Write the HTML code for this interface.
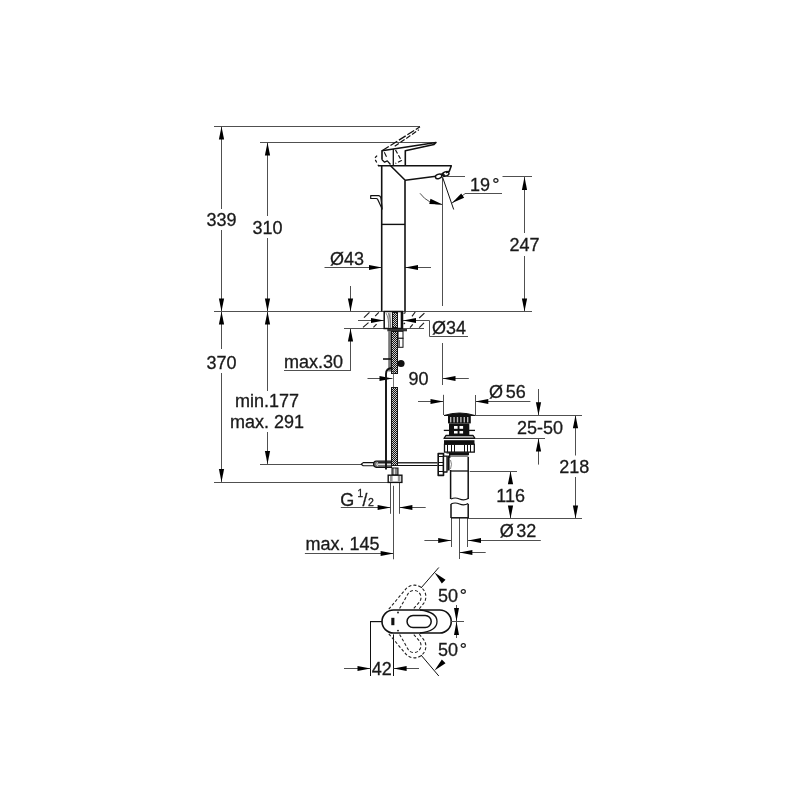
<!DOCTYPE html>
<html><head><meta charset="utf-8"><style>
html,body{margin:0;padding:0;background:#fff;}
svg{display:block;transform:translateZ(0);will-change:transform;}
text{font-family:"Liberation Sans", sans-serif;}
</style></head><body>
<svg width="800" height="800" viewBox="0 0 800 800">
<defs><pattern id="hose" width="4" height="4" patternUnits="userSpaceOnUse"><rect width="4" height="4" fill="#111"/><rect x="0" y="0" width="2" height="2" fill="#ddd"/><rect x="2" y="2" width="2" height="2" fill="#ddd"/></pattern></defs>
<rect width="800" height="800" fill="#fff"/>
<line x1="214" y1="126.5" x2="420" y2="126.5" stroke="#505050" stroke-width="1.0" />
<line x1="260" y1="142.5" x2="436" y2="142.5" stroke="#505050" stroke-width="1.0" />
<line x1="221.5" y1="126.5" x2="221.5" y2="209" stroke="#505050" stroke-width="1.0" />
<line x1="221.5" y1="230" x2="221.5" y2="311.5" stroke="#505050" stroke-width="1.0" />
<polygon points="221.50,126.50 224.10,139.50 218.90,139.50" fill="#000"/>
<polygon points="221.50,311.50 218.90,298.50 224.10,298.50" fill="#000"/>
<text x="221.5" y="225.5" font-size="18" text-anchor="middle" fill="#1a1a1a" stroke="#1a1a1a" stroke-width="0.3" >339</text>
<line x1="221.5" y1="311.5" x2="221.5" y2="349" stroke="#505050" stroke-width="1.0" />
<line x1="221.5" y1="373" x2="221.5" y2="482" stroke="#505050" stroke-width="1.0" />
<polygon points="221.50,311.50 224.10,324.50 218.90,324.50" fill="#000"/>
<polygon points="221.50,482.00 218.90,469.00 224.10,469.00" fill="#000"/>
<text x="221.5" y="369" font-size="18" text-anchor="middle" fill="#1a1a1a" stroke="#1a1a1a" stroke-width="0.3" >370</text>
<line x1="267.5" y1="142.5" x2="267.5" y2="216" stroke="#505050" stroke-width="1.0" />
<line x1="267.5" y1="238" x2="267.5" y2="311.5" stroke="#505050" stroke-width="1.0" />
<polygon points="267.50,142.50 270.10,155.50 264.90,155.50" fill="#000"/>
<polygon points="267.50,311.50 264.90,298.50 270.10,298.50" fill="#000"/>
<text x="267.5" y="234" font-size="18" text-anchor="middle" fill="#1a1a1a" stroke="#1a1a1a" stroke-width="0.3" >310</text>
<line x1="267.5" y1="311.5" x2="267.5" y2="391" stroke="#505050" stroke-width="1.0" />
<line x1="267.5" y1="432" x2="267.5" y2="464" stroke="#505050" stroke-width="1.0" />
<polygon points="267.50,311.50 270.10,324.50 264.90,324.50" fill="#000"/>
<polygon points="267.50,464.00 264.90,451.00 270.10,451.00" fill="#000"/>
<text x="267" y="407" font-size="18" text-anchor="middle" fill="#1a1a1a" stroke="#1a1a1a" stroke-width="0.3" >min.177</text>
<text x="267" y="428" font-size="18" text-anchor="middle" fill="#1a1a1a" stroke="#1a1a1a" stroke-width="0.3" >max. 291</text>
<line x1="214" y1="311.5" x2="532" y2="311.5" stroke="#505050" stroke-width="1.0" />
<line x1="260" y1="464.5" x2="362" y2="464.5" stroke="#505050" stroke-width="1.0" />
<line x1="214" y1="482.5" x2="388" y2="482.5" stroke="#505050" stroke-width="1.0" />
<line x1="350.5" y1="286" x2="350.5" y2="311.5" stroke="#505050" stroke-width="1.0" />
<polygon points="350.50,311.50 347.90,298.50 353.10,298.50" fill="#000"/>
<line x1="350.5" y1="328.5" x2="350.5" y2="370.5" stroke="#505050" stroke-width="1.0" />
<polygon points="350.50,328.50 353.10,341.50 347.90,341.50" fill="#000"/>
<line x1="284" y1="370.5" x2="351" y2="370.5" stroke="#505050" stroke-width="1.0" />
<text x="284" y="368" font-size="18" text-anchor="start" fill="#1a1a1a" stroke="#1a1a1a" stroke-width="0.3" >max.30</text>
<line x1="344" y1="328.5" x2="424" y2="328.5" stroke="#505050" stroke-width="1.0" />
<line x1="358" y1="320.5" x2="384" y2="320.5" stroke="#505050" stroke-width="1.0" />
<polygon points="384.00,320.50 371.00,323.10 371.00,317.90" fill="#000"/>
<line x1="403" y1="320.5" x2="429.5" y2="320.5" stroke="#505050" stroke-width="1.0" />
<polygon points="403.00,320.50 416.00,317.90 416.00,323.10" fill="#000"/>
<line x1="429.5" y1="320.5" x2="429.5" y2="336.5" stroke="#505050" stroke-width="1.0" />
<line x1="429.5" y1="336.5" x2="468" y2="336.5" stroke="#505050" stroke-width="1.0" />
<text x="432" y="333.8" font-size="18" text-anchor="start" fill="#1a1a1a" stroke="#1a1a1a" stroke-width="0.3" >Ø34</text>
<line x1="324.5" y1="267.5" x2="382" y2="267.5" stroke="#505050" stroke-width="1.0" />
<polygon points="382.00,267.50 369.00,270.10 369.00,264.90" fill="#000"/>
<line x1="405" y1="267.5" x2="431" y2="267.5" stroke="#505050" stroke-width="1.0" />
<polygon points="405.00,267.50 418.00,264.90 418.00,270.10" fill="#000"/>
<text x="330" y="265" font-size="18" text-anchor="start" fill="#1a1a1a" stroke="#1a1a1a" stroke-width="0.3" >Ø43</text>
<line x1="381.7" y1="165.6" x2="381.7" y2="311.5" stroke="#111" stroke-width="1.6" />
<line x1="405" y1="180.6" x2="405" y2="311.5" stroke="#111" stroke-width="1.6" />
<line x1="382" y1="224.4" x2="405" y2="224.4" stroke="#111" stroke-width="1.4" />
<polyline points="378,165.8 451.3,165.8 449.3,171.3 446,172.8" stroke="#111" stroke-width="1.6" fill="none" stroke-linejoin="round" />
<polyline points="390.6,165.8 405.2,180.3 436,176.2" stroke="#111" stroke-width="1.6" fill="none" stroke-linejoin="round" />
<path d="M 440.5 173.8 L 443.5 177.2 L 446 176 L 443 172.5 Z" stroke="#111" stroke-width="0" fill="#333" stroke-linejoin="round" />
<ellipse cx="438.6" cy="176.4" rx="3.3" ry="2.1" transform="rotate(-22 438.6 176.4)" fill="none" stroke="#111" stroke-width="1.4"/>
<ellipse cx="445.8" cy="173.9" rx="3.3" ry="2.1" transform="rotate(-22 445.8 173.9)" fill="none" stroke="#111" stroke-width="1.4"/>
<polyline points="382,159.8 382,150.8 436,142.5 434,144.5 405.3,150.8 405.3,165.6" stroke="#111" stroke-width="1.6" fill="none" stroke-linejoin="round" />
<line x1="393.3" y1="149" x2="393.3" y2="165.6" stroke="#111" stroke-width="1.3" />
<polyline points="382,159.8 384.6,162.2 387.3,160.9 390.5,164.5" stroke="#111" stroke-width="1.3" fill="none" stroke-linejoin="round" />
<polyline points="382,150.8 420,126.8" stroke="#111" stroke-width="1.3" fill="none" stroke-linejoin="round" stroke-dasharray="8,2"/>
<polyline points="394.7,146.3 418.8,129.8" stroke="#111" stroke-width="1.2" fill="none" stroke-linejoin="round" stroke-dasharray="5,2"/>
<polyline points="377.1,155.6 374.5,158.3 378.3,165.4" stroke="#111" stroke-width="1.2" fill="none" stroke-linejoin="round" stroke-dasharray="3,2.5"/>
<polyline points="395.5,150 401.5,160.5 395.5,163.5" stroke="#111" stroke-width="1.2" fill="none" stroke-linejoin="round" stroke-dasharray="4,2"/>
<polyline points="384.3,152.3 386.5,156.8" stroke="#111" stroke-width="1.1" fill="none" stroke-linejoin="round" />
<path d="M 370.7 195.7 L 378.8 195.7 Q 380.2 196 380.8 197.5 L 382.2 209 L 377.6 199.2 Q 377.2 198.5 376.3 198.5 L 370.7 198.5 Z" stroke="#111" stroke-width="1.2" fill="#fff" stroke-linejoin="round" />
<line x1="442.5" y1="178" x2="442.5" y2="306" stroke="#505050" stroke-width="1.0" />
<line x1="442.5" y1="177" x2="453.7" y2="209.5" stroke="#111" stroke-width="1.0" />
<line x1="445.5" y1="176.5" x2="465" y2="176.5" stroke="#505050" stroke-width="1.0" />
<line x1="502.5" y1="176.5" x2="532" y2="176.5" stroke="#505050" stroke-width="1.0" />
<line x1="465" y1="193.5" x2="502" y2="193.5" stroke="#505050" stroke-width="1.0" />
<polyline points="465,193.7 452,203" stroke="#505050" stroke-width="1.0" fill="none" stroke-linejoin="round" />
<polygon points="452.00,203.00 461.21,193.46 464.17,197.74" fill="#000"/>
<path d="M 420 193.3 A 27.5 27.5 0 0 0 442.5 204.5" stroke="#505050" stroke-width="1.0" fill="none" stroke-linejoin="round" />
<polygon points="442.50,204.50 429.26,203.92 430.50,198.87" fill="#000"/>
<text x="470" y="190.7" font-size="18" text-anchor="start" fill="#1a1a1a" stroke="#1a1a1a" stroke-width="0.3" >19</text>
<text x="492.3" y="190.7" font-size="18" text-anchor="start" fill="#1a1a1a" stroke="#1a1a1a" stroke-width="0.3" >°</text>
<line x1="524.5" y1="177" x2="524.5" y2="233" stroke="#505050" stroke-width="1.0" />
<line x1="524.5" y1="256" x2="524.5" y2="311.5" stroke="#505050" stroke-width="1.0" />
<polygon points="524.50,177.00 527.10,190.00 521.90,190.00" fill="#000"/>
<polygon points="524.50,311.50 521.90,298.50 527.10,298.50" fill="#000"/>
<text x="524.6" y="251" font-size="18" text-anchor="middle" fill="#1a1a1a" stroke="#1a1a1a" stroke-width="0.3" >247</text>
<line x1="442.5" y1="343" x2="442.5" y2="385" stroke="#505050" stroke-width="1.0" />
<line x1="443.5" y1="394.8" x2="443.5" y2="415" stroke="#505050" stroke-width="1.0" />
<text x="408.5" y="385" font-size="18" text-anchor="start" fill="#1a1a1a" stroke="#1a1a1a" stroke-width="0.3" >90</text>
<line x1="367.5" y1="378.5" x2="392.5" y2="378.5" stroke="#505050" stroke-width="1.0" />
<polygon points="392.50,378.50 379.50,381.10 379.50,375.90" fill="#000"/>
<line x1="442.5" y1="378.5" x2="468.8" y2="378.5" stroke="#505050" stroke-width="1.0" />
<polygon points="442.50,378.50 455.50,375.90 455.50,381.10" fill="#000"/>
<line x1="418" y1="401.5" x2="443.5" y2="401.5" stroke="#505050" stroke-width="1.0" />
<polygon points="443.50,401.50 430.50,404.10 430.50,398.90" fill="#000"/>
<line x1="475.3" y1="401.5" x2="530.4" y2="401.5" stroke="#505050" stroke-width="1.0" />
<polygon points="475.30,401.50 488.30,398.90 488.30,404.10" fill="#000"/>
<line x1="475.5" y1="395" x2="475.5" y2="415" stroke="#505050" stroke-width="1.0" />
<text x="489" y="398" font-size="18" text-anchor="start" fill="#1a1a1a" stroke="#1a1a1a" stroke-width="0.3" >Ø</text>
<text x="505.7" y="398" font-size="18" text-anchor="start" fill="#1a1a1a" stroke="#1a1a1a" stroke-width="0.3" >56</text>
<line x1="475" y1="415.5" x2="582" y2="415.5" stroke="#505050" stroke-width="1.0" />
<line x1="538.5" y1="389" x2="538.5" y2="415.2" stroke="#505050" stroke-width="1.0" />
<polygon points="538.50,415.20 535.90,402.20 541.10,402.20" fill="#000"/>
<line x1="538.5" y1="438.6" x2="538.5" y2="464.6" stroke="#505050" stroke-width="1.0" />
<polygon points="538.50,438.60 541.10,451.60 535.90,451.60" fill="#000"/>
<line x1="475.3" y1="438.5" x2="545" y2="438.5" stroke="#505050" stroke-width="1.0" />
<text x="517" y="434" font-size="18" text-anchor="start" fill="#1a1a1a" stroke="#1a1a1a" stroke-width="0.3" >25-50</text>
<line x1="575.5" y1="415.2" x2="575.5" y2="455.5" stroke="#505050" stroke-width="1.0" />
<line x1="575.5" y1="477" x2="575.5" y2="518.6" stroke="#505050" stroke-width="1.0" />
<polygon points="575.50,415.20 578.10,428.20 572.90,428.20" fill="#000"/>
<polygon points="575.50,518.60 572.90,505.60 578.10,505.60" fill="#000"/>
<text x="574.2" y="473" font-size="18" text-anchor="middle" fill="#1a1a1a" stroke="#1a1a1a" stroke-width="0.3" >218</text>
<line x1="510.5" y1="471.3" x2="510.5" y2="484" stroke="#505050" stroke-width="1.0" />
<line x1="510.5" y1="506" x2="510.5" y2="518.6" stroke="#505050" stroke-width="1.0" />
<polygon points="510.50,471.30 513.10,484.30 507.90,484.30" fill="#000"/>
<polygon points="510.50,518.60 507.90,505.60 513.10,505.60" fill="#000"/>
<text x="510.7" y="501.7" font-size="18" text-anchor="middle" fill="#1a1a1a" stroke="#1a1a1a" stroke-width="0.3" >116</text>
<line x1="469.7" y1="471.5" x2="517" y2="471.5" stroke="#505050" stroke-width="1.0" />
<line x1="468" y1="518.5" x2="582" y2="518.5" stroke="#505050" stroke-width="1.0" />
<line x1="451.5" y1="518" x2="451.5" y2="547" stroke="#505050" stroke-width="1.0" />
<line x1="467.5" y1="518" x2="467.5" y2="547" stroke="#505050" stroke-width="1.0" />
<line x1="459.5" y1="518" x2="459.5" y2="559" stroke="#505050" stroke-width="1.0" />
<line x1="424.4" y1="540.5" x2="451.2" y2="540.5" stroke="#505050" stroke-width="1.0" />
<polygon points="451.20,540.50 438.20,543.10 438.20,537.90" fill="#000"/>
<line x1="468" y1="540.5" x2="540.8" y2="540.5" stroke="#505050" stroke-width="1.0" />
<polygon points="468.00,540.50 481.00,537.90 481.00,543.10" fill="#000"/>
<line x1="459.4" y1="552.5" x2="485.7" y2="552.5" stroke="#505050" stroke-width="1.0" />
<polygon points="459.40,552.50 472.40,549.90 472.40,555.10" fill="#000"/>
<text x="499.7" y="537" font-size="18" text-anchor="start" fill="#1a1a1a" stroke="#1a1a1a" stroke-width="0.3" >Ø</text>
<text x="516.3" y="537" font-size="18" text-anchor="start" fill="#1a1a1a" stroke="#1a1a1a" stroke-width="0.3" >32</text>
<line x1="390.5" y1="482" x2="390.5" y2="513.8" stroke="#505050" stroke-width="1.0" />
<line x1="399.5" y1="482" x2="399.5" y2="513.8" stroke="#505050" stroke-width="1.0" />
<line x1="393.5" y1="485.8" x2="393.5" y2="559.3" stroke="#505050" stroke-width="1.0" />
<line x1="340.8" y1="507.5" x2="390.6" y2="507.5" stroke="#505050" stroke-width="1.0" />
<polygon points="390.60,507.50 377.60,510.10 377.60,504.90" fill="#000"/>
<line x1="399.4" y1="507.5" x2="425.7" y2="507.5" stroke="#505050" stroke-width="1.0" />
<polygon points="399.40,507.50 412.40,504.90 412.40,510.10" fill="#000"/>
<text x="340.2" y="505.5" font-size="18" text-anchor="start" fill="#1a1a1a" stroke="#1a1a1a" stroke-width="0.3" >G</text>
<text x="357.4" y="496.6" font-size="10" text-anchor="start" fill="#1a1a1a" stroke="#1a1a1a" stroke-width="0.3" >1</text>
<text x="362.6" y="505.5" font-size="17.5" text-anchor="start" fill="#1a1a1a" stroke="#1a1a1a" stroke-width="0.3" >/</text>
<text x="367.9" y="505.7" font-size="10.5" text-anchor="start" fill="#1a1a1a" stroke="#1a1a1a" stroke-width="0.3" >2</text>
<text x="305.5" y="549.7" font-size="18" text-anchor="start" fill="#1a1a1a" stroke="#1a1a1a" stroke-width="0.3" >max. 145</text>
<line x1="304.9" y1="553.5" x2="393.6" y2="553.5" stroke="#505050" stroke-width="1.0" />
<polygon points="393.60,553.50 380.60,556.10 380.60,550.90" fill="#000"/>
<path d="M 444 415.5 Q 459.5 410.5 475 415.5 Z" stroke="#111" stroke-width="1.0" fill="#111" stroke-linejoin="round" />
<rect x="448" y="416" width="22.8" height="7.4" fill="#111" stroke="#111" stroke-width="0" />
<rect x="450.0" y="417" width="1.4" height="5.4" fill="#bbb" stroke="#111" stroke-width="0" />
<rect x="453.4" y="417" width="1.4" height="5.4" fill="#bbb" stroke="#111" stroke-width="0" />
<rect x="456.8" y="417" width="1.4" height="5.4" fill="#bbb" stroke="#111" stroke-width="0" />
<rect x="460.2" y="417" width="1.4" height="5.4" fill="#bbb" stroke="#111" stroke-width="0" />
<rect x="463.6" y="417" width="1.4" height="5.4" fill="#bbb" stroke="#111" stroke-width="0" />
<rect x="467.0" y="417" width="1.4" height="5.4" fill="#bbb" stroke="#111" stroke-width="0" />
<rect x="449" y="423.4" width="20.3" height="11.6" fill="#111" stroke="#111" stroke-width="0" />
<rect x="454" y="426" width="3.6" height="2.8" fill="#fff" stroke="#111" stroke-width="0" />
<rect x="459.5" y="426" width="3.6" height="2.8" fill="#fff" stroke="#111" stroke-width="0" />
<rect x="454" y="430.7" width="3.6" height="2.8" fill="#fff" stroke="#111" stroke-width="0" />
<rect x="459.5" y="430.7" width="3.6" height="2.8" fill="#fff" stroke="#111" stroke-width="0" />
<line x1="443.8" y1="430.4" x2="475" y2="430.4" stroke="#111" stroke-width="1.3" />
<path d="M 446 435.4 L 473 435.4 L 475 438.4 L 444 438.4 Z" stroke="#111" stroke-width="1.2" fill="#aaa" stroke-linejoin="round" />
<rect x="444" y="440.2" width="30.5" height="3.8" fill="#111" stroke="#111" stroke-width="0" />
<rect x="444.5" y="444.3" width="29.8" height="7.8" fill="#fff" stroke="#111" stroke-width="1.3" />
<line x1="447.5" y1="444.5" x2="447.5" y2="452" stroke="#111" stroke-width="1.0" />
<line x1="451.5" y1="444.5" x2="451.5" y2="452" stroke="#111" stroke-width="1.0" />
<line x1="454.5" y1="444.5" x2="454.5" y2="452" stroke="#111" stroke-width="1.0" />
<line x1="464.5" y1="444.5" x2="464.5" y2="452" stroke="#111" stroke-width="1.0" />
<line x1="467.5" y1="444.5" x2="467.5" y2="452" stroke="#111" stroke-width="1.0" />
<line x1="470.5" y1="444.5" x2="470.5" y2="452" stroke="#111" stroke-width="1.0" />
<rect x="449" y="452.2" width="20" height="2.8" fill="#111" stroke="#111" stroke-width="0" />
<rect x="450" y="455" width="18.5" height="2" fill="#888" stroke="#111" stroke-width="0" />
<line x1="450.6" y1="470" x2="450.6" y2="499" stroke="#111" stroke-width="1.5" />
<line x1="468.2" y1="457" x2="468.2" y2="499" stroke="#111" stroke-width="1.5" />
<line x1="451" y1="471" x2="468.2" y2="471" stroke="#111" stroke-width="1.3" />
<path d="M 451 499 Q 455 497 459.5 499 Q 464 501 468.2 498.5" stroke="#111" stroke-width="1.2" fill="none" stroke-linejoin="round" />
<path d="M 451 504 Q 455 502 459.5 504 Q 464 506 468.2 503.5" stroke="#111" stroke-width="1.2" fill="none" stroke-linejoin="round" />
<line x1="451" y1="504" x2="451" y2="518" stroke="#111" stroke-width="1.5" />
<line x1="468.2" y1="504" x2="468.2" y2="518" stroke="#111" stroke-width="1.5" />
<line x1="451" y1="517.8" x2="468.2" y2="517.8" stroke="#111" stroke-width="1.5" />
<path d="M 438.2 453.6 L 443.5 453.6 L 443.5 475.4 L 438.2 475.4 Z" stroke="#111" stroke-width="1.6" fill="#fff" stroke-linejoin="round" />
<line x1="438" y1="456.5" x2="443.5" y2="456.5" stroke="#111" stroke-width="1.0" />
<line x1="438" y1="462.5" x2="443.5" y2="462.5" stroke="#111" stroke-width="1.0" />
<line x1="438" y1="465.5" x2="443.5" y2="465.5" stroke="#111" stroke-width="1.0" />
<line x1="438" y1="471.5" x2="443.5" y2="471.5" stroke="#111" stroke-width="1.0" />
<path d="M 443.5 456.2 L 447 456.2 L 447 472 L 443.5 472 Z" stroke="#111" stroke-width="1.3" fill="#fff" stroke-linejoin="round" />
<rect x="447.4" y="455.5" width="2.2" height="15" fill="#111" stroke="#111" stroke-width="0" />
<path d="M 446.5 453 L 449.5 452.8 L 449.8 458" stroke="#111" stroke-width="1.2" fill="none" stroke-linejoin="round" />
<path d="M 450.5 460 Q 452.5 464 450.5 469" stroke="#777" stroke-width="0.9" fill="none" stroke-linejoin="round" />
<line x1="398" y1="462.8" x2="437.5" y2="462.8" stroke="#333" stroke-width="1.6" />
<line x1="398" y1="465.5" x2="437.5" y2="465.5" stroke="#111" stroke-width="1.0" />
<path d="M 361.2 464.2 L 363.2 462.6 L 374 462.6 L 374 465.8 L 363.2 465.8 Z" stroke="#111" stroke-width="1.1" fill="#fff" stroke-linejoin="round" />
<path d="M 392 461 L 376.3 461 Q 373.6 461 373.6 464.1 Q 373.6 467.3 376.3 467.3 L 392 467.3 Z" stroke="#111" stroke-width="1.2" fill="#777" stroke-linejoin="round" />
<rect x="377" y="461.5" width="15" height="1.8" fill="#222" stroke="#111" stroke-width="0" />
<line x1="377.5" y1="464.3" x2="392" y2="464.3" stroke="#f4f4f4" stroke-width="1.1" />
<path d="M 377.8 462.2 Q 375.4 464.2 377.8 466.3" stroke="#e8e8e8" stroke-width="1.0" fill="none" stroke-linejoin="round" />
<rect x="384.2" y="311.5" width="18.3" height="17" fill="#fff" stroke="#111" stroke-width="1.5" />
<rect x="388" y="312.5" width="3.3" height="15.5" fill="#bbb" stroke="#111" stroke-width="0" />
<path d="M 386 313 Q 389 318 388.5 328" stroke="#555" stroke-width="0.7" fill="none" stroke-linejoin="round" />
<path d="M 388.5 313 Q 391 318 390.5 328" stroke="#555" stroke-width="0.7" fill="none" stroke-linejoin="round" />
<rect x="392" y="312" width="6" height="16" fill="#151515"/>
<rect x="393" y="313" width="1" height="1" fill="#ccc"/>
<rect x="395" y="313" width="1" height="1" fill="#ccc"/>
<rect x="394" y="314" width="1" height="1" fill="#ccc"/>
<rect x="396" y="314" width="1" height="1" fill="#ccc"/>
<rect x="393" y="315" width="1" height="1" fill="#ccc"/>
<rect x="395" y="315" width="1" height="1" fill="#ccc"/>
<rect x="394" y="316" width="1" height="1" fill="#ccc"/>
<rect x="396" y="316" width="1" height="1" fill="#ccc"/>
<rect x="393" y="317" width="1" height="1" fill="#ccc"/>
<rect x="395" y="317" width="1" height="1" fill="#ccc"/>
<rect x="394" y="318" width="1" height="1" fill="#ccc"/>
<rect x="396" y="318" width="1" height="1" fill="#ccc"/>
<rect x="393" y="319" width="1" height="1" fill="#ccc"/>
<rect x="395" y="319" width="1" height="1" fill="#ccc"/>
<rect x="394" y="320" width="1" height="1" fill="#ccc"/>
<rect x="396" y="320" width="1" height="1" fill="#ccc"/>
<rect x="393" y="321" width="1" height="1" fill="#ccc"/>
<rect x="395" y="321" width="1" height="1" fill="#ccc"/>
<rect x="394" y="322" width="1" height="1" fill="#ccc"/>
<rect x="396" y="322" width="1" height="1" fill="#ccc"/>
<rect x="393" y="323" width="1" height="1" fill="#ccc"/>
<rect x="395" y="323" width="1" height="1" fill="#ccc"/>
<rect x="394" y="324" width="1" height="1" fill="#ccc"/>
<rect x="396" y="324" width="1" height="1" fill="#ccc"/>
<rect x="393" y="325" width="1" height="1" fill="#ccc"/>
<rect x="395" y="325" width="1" height="1" fill="#ccc"/>
<rect x="394" y="326" width="1" height="1" fill="#ccc"/>
<rect x="396" y="326" width="1" height="1" fill="#ccc"/>
<line x1="401.5" y1="312" x2="401.5" y2="328.5" stroke="#111" stroke-width="1.6" />
<line x1="397.5" y1="312" x2="397.5" y2="328.5" stroke="#111" stroke-width="0.8" />
<rect x="387.3" y="329" width="19.7" height="2.3" fill="#333" stroke="#111" stroke-width="0" />
<rect x="388.2" y="331" width="2.9" height="40.5" fill="#777" stroke="#111" stroke-width="0" />
<rect x="391" y="331" width="7" height="43" fill="#151515"/>
<rect x="392" y="332" width="1" height="1" fill="#ccc"/>
<rect x="394" y="332" width="1" height="1" fill="#ccc"/>
<rect x="396" y="332" width="1" height="1" fill="#ccc"/>
<rect x="393" y="333" width="1" height="1" fill="#ccc"/>
<rect x="395" y="333" width="1" height="1" fill="#ccc"/>
<rect x="392" y="334" width="1" height="1" fill="#ccc"/>
<rect x="394" y="334" width="1" height="1" fill="#ccc"/>
<rect x="396" y="334" width="1" height="1" fill="#ccc"/>
<rect x="393" y="335" width="1" height="1" fill="#ccc"/>
<rect x="395" y="335" width="1" height="1" fill="#ccc"/>
<rect x="392" y="336" width="1" height="1" fill="#ccc"/>
<rect x="394" y="336" width="1" height="1" fill="#ccc"/>
<rect x="396" y="336" width="1" height="1" fill="#ccc"/>
<rect x="393" y="337" width="1" height="1" fill="#ccc"/>
<rect x="395" y="337" width="1" height="1" fill="#ccc"/>
<rect x="392" y="338" width="1" height="1" fill="#ccc"/>
<rect x="394" y="338" width="1" height="1" fill="#ccc"/>
<rect x="396" y="338" width="1" height="1" fill="#ccc"/>
<rect x="393" y="339" width="1" height="1" fill="#ccc"/>
<rect x="395" y="339" width="1" height="1" fill="#ccc"/>
<rect x="392" y="340" width="1" height="1" fill="#ccc"/>
<rect x="394" y="340" width="1" height="1" fill="#ccc"/>
<rect x="396" y="340" width="1" height="1" fill="#ccc"/>
<rect x="393" y="341" width="1" height="1" fill="#ccc"/>
<rect x="395" y="341" width="1" height="1" fill="#ccc"/>
<rect x="392" y="342" width="1" height="1" fill="#ccc"/>
<rect x="394" y="342" width="1" height="1" fill="#ccc"/>
<rect x="396" y="342" width="1" height="1" fill="#ccc"/>
<rect x="393" y="343" width="1" height="1" fill="#ccc"/>
<rect x="395" y="343" width="1" height="1" fill="#ccc"/>
<rect x="392" y="344" width="1" height="1" fill="#ccc"/>
<rect x="394" y="344" width="1" height="1" fill="#ccc"/>
<rect x="396" y="344" width="1" height="1" fill="#ccc"/>
<rect x="393" y="345" width="1" height="1" fill="#ccc"/>
<rect x="395" y="345" width="1" height="1" fill="#ccc"/>
<rect x="392" y="346" width="1" height="1" fill="#ccc"/>
<rect x="394" y="346" width="1" height="1" fill="#ccc"/>
<rect x="396" y="346" width="1" height="1" fill="#ccc"/>
<rect x="393" y="347" width="1" height="1" fill="#ccc"/>
<rect x="395" y="347" width="1" height="1" fill="#ccc"/>
<rect x="392" y="348" width="1" height="1" fill="#ccc"/>
<rect x="394" y="348" width="1" height="1" fill="#ccc"/>
<rect x="396" y="348" width="1" height="1" fill="#ccc"/>
<rect x="393" y="349" width="1" height="1" fill="#ccc"/>
<rect x="395" y="349" width="1" height="1" fill="#ccc"/>
<rect x="392" y="350" width="1" height="1" fill="#ccc"/>
<rect x="394" y="350" width="1" height="1" fill="#ccc"/>
<rect x="396" y="350" width="1" height="1" fill="#ccc"/>
<rect x="393" y="351" width="1" height="1" fill="#ccc"/>
<rect x="395" y="351" width="1" height="1" fill="#ccc"/>
<rect x="392" y="352" width="1" height="1" fill="#ccc"/>
<rect x="394" y="352" width="1" height="1" fill="#ccc"/>
<rect x="396" y="352" width="1" height="1" fill="#ccc"/>
<rect x="393" y="353" width="1" height="1" fill="#ccc"/>
<rect x="395" y="353" width="1" height="1" fill="#ccc"/>
<rect x="392" y="354" width="1" height="1" fill="#ccc"/>
<rect x="394" y="354" width="1" height="1" fill="#ccc"/>
<rect x="396" y="354" width="1" height="1" fill="#ccc"/>
<rect x="393" y="355" width="1" height="1" fill="#ccc"/>
<rect x="395" y="355" width="1" height="1" fill="#ccc"/>
<rect x="392" y="356" width="1" height="1" fill="#ccc"/>
<rect x="394" y="356" width="1" height="1" fill="#ccc"/>
<rect x="396" y="356" width="1" height="1" fill="#ccc"/>
<rect x="393" y="357" width="1" height="1" fill="#ccc"/>
<rect x="395" y="357" width="1" height="1" fill="#ccc"/>
<rect x="392" y="358" width="1" height="1" fill="#ccc"/>
<rect x="394" y="358" width="1" height="1" fill="#ccc"/>
<rect x="396" y="358" width="1" height="1" fill="#ccc"/>
<rect x="393" y="359" width="1" height="1" fill="#ccc"/>
<rect x="395" y="359" width="1" height="1" fill="#ccc"/>
<rect x="392" y="360" width="1" height="1" fill="#ccc"/>
<rect x="394" y="360" width="1" height="1" fill="#ccc"/>
<rect x="396" y="360" width="1" height="1" fill="#ccc"/>
<rect x="393" y="361" width="1" height="1" fill="#ccc"/>
<rect x="395" y="361" width="1" height="1" fill="#ccc"/>
<rect x="392" y="362" width="1" height="1" fill="#ccc"/>
<rect x="394" y="362" width="1" height="1" fill="#ccc"/>
<rect x="396" y="362" width="1" height="1" fill="#ccc"/>
<rect x="393" y="363" width="1" height="1" fill="#ccc"/>
<rect x="395" y="363" width="1" height="1" fill="#ccc"/>
<rect x="392" y="364" width="1" height="1" fill="#ccc"/>
<rect x="394" y="364" width="1" height="1" fill="#ccc"/>
<rect x="396" y="364" width="1" height="1" fill="#ccc"/>
<rect x="393" y="365" width="1" height="1" fill="#ccc"/>
<rect x="395" y="365" width="1" height="1" fill="#ccc"/>
<rect x="392" y="366" width="1" height="1" fill="#ccc"/>
<rect x="394" y="366" width="1" height="1" fill="#ccc"/>
<rect x="396" y="366" width="1" height="1" fill="#ccc"/>
<rect x="393" y="367" width="1" height="1" fill="#ccc"/>
<rect x="395" y="367" width="1" height="1" fill="#ccc"/>
<rect x="392" y="368" width="1" height="1" fill="#ccc"/>
<rect x="394" y="368" width="1" height="1" fill="#ccc"/>
<rect x="396" y="368" width="1" height="1" fill="#ccc"/>
<rect x="393" y="369" width="1" height="1" fill="#ccc"/>
<rect x="395" y="369" width="1" height="1" fill="#ccc"/>
<rect x="392" y="370" width="1" height="1" fill="#ccc"/>
<rect x="394" y="370" width="1" height="1" fill="#ccc"/>
<rect x="396" y="370" width="1" height="1" fill="#ccc"/>
<rect x="393" y="371" width="1" height="1" fill="#ccc"/>
<rect x="395" y="371" width="1" height="1" fill="#ccc"/>
<rect x="392" y="372" width="1" height="1" fill="#ccc"/>
<rect x="394" y="372" width="1" height="1" fill="#ccc"/>
<rect x="396" y="372" width="1" height="1" fill="#ccc"/>
<rect x="398" y="331.3" width="5" height="7" fill="#fff" stroke="#111" stroke-width="1.0" />
<rect x="398" y="338.3" width="5" height="9" fill="#fff" stroke="#111" stroke-width="1.0" />
<line x1="399.5" y1="340" x2="399.5" y2="347" stroke="#666" stroke-width="1.0" />
<circle cx="401" cy="363.5" r="3.6" fill="#111"/>
<line x1="383" y1="359" x2="391.4" y2="359" stroke="#111" stroke-width="1.6" />
<path d="M 392.5 368 Q 386 368 386 374 L 386 469.6" stroke="#111" stroke-width="1.9" fill="none" stroke-linejoin="round" />
<rect x="391" y="387" width="7" height="79" fill="#151515"/>
<rect x="392" y="388" width="1" height="1" fill="#ccc"/>
<rect x="394" y="388" width="1" height="1" fill="#ccc"/>
<rect x="396" y="388" width="1" height="1" fill="#ccc"/>
<rect x="393" y="389" width="1" height="1" fill="#ccc"/>
<rect x="395" y="389" width="1" height="1" fill="#ccc"/>
<rect x="392" y="390" width="1" height="1" fill="#ccc"/>
<rect x="394" y="390" width="1" height="1" fill="#ccc"/>
<rect x="396" y="390" width="1" height="1" fill="#ccc"/>
<rect x="393" y="391" width="1" height="1" fill="#ccc"/>
<rect x="395" y="391" width="1" height="1" fill="#ccc"/>
<rect x="392" y="392" width="1" height="1" fill="#ccc"/>
<rect x="394" y="392" width="1" height="1" fill="#ccc"/>
<rect x="396" y="392" width="1" height="1" fill="#ccc"/>
<rect x="393" y="393" width="1" height="1" fill="#ccc"/>
<rect x="395" y="393" width="1" height="1" fill="#ccc"/>
<rect x="392" y="394" width="1" height="1" fill="#ccc"/>
<rect x="394" y="394" width="1" height="1" fill="#ccc"/>
<rect x="396" y="394" width="1" height="1" fill="#ccc"/>
<rect x="393" y="395" width="1" height="1" fill="#ccc"/>
<rect x="395" y="395" width="1" height="1" fill="#ccc"/>
<rect x="392" y="396" width="1" height="1" fill="#ccc"/>
<rect x="394" y="396" width="1" height="1" fill="#ccc"/>
<rect x="396" y="396" width="1" height="1" fill="#ccc"/>
<rect x="393" y="397" width="1" height="1" fill="#ccc"/>
<rect x="395" y="397" width="1" height="1" fill="#ccc"/>
<rect x="392" y="398" width="1" height="1" fill="#ccc"/>
<rect x="394" y="398" width="1" height="1" fill="#ccc"/>
<rect x="396" y="398" width="1" height="1" fill="#ccc"/>
<rect x="393" y="399" width="1" height="1" fill="#ccc"/>
<rect x="395" y="399" width="1" height="1" fill="#ccc"/>
<rect x="392" y="400" width="1" height="1" fill="#ccc"/>
<rect x="394" y="400" width="1" height="1" fill="#ccc"/>
<rect x="396" y="400" width="1" height="1" fill="#ccc"/>
<rect x="393" y="401" width="1" height="1" fill="#ccc"/>
<rect x="395" y="401" width="1" height="1" fill="#ccc"/>
<rect x="392" y="402" width="1" height="1" fill="#ccc"/>
<rect x="394" y="402" width="1" height="1" fill="#ccc"/>
<rect x="396" y="402" width="1" height="1" fill="#ccc"/>
<rect x="393" y="403" width="1" height="1" fill="#ccc"/>
<rect x="395" y="403" width="1" height="1" fill="#ccc"/>
<rect x="392" y="404" width="1" height="1" fill="#ccc"/>
<rect x="394" y="404" width="1" height="1" fill="#ccc"/>
<rect x="396" y="404" width="1" height="1" fill="#ccc"/>
<rect x="393" y="405" width="1" height="1" fill="#ccc"/>
<rect x="395" y="405" width="1" height="1" fill="#ccc"/>
<rect x="392" y="406" width="1" height="1" fill="#ccc"/>
<rect x="394" y="406" width="1" height="1" fill="#ccc"/>
<rect x="396" y="406" width="1" height="1" fill="#ccc"/>
<rect x="393" y="407" width="1" height="1" fill="#ccc"/>
<rect x="395" y="407" width="1" height="1" fill="#ccc"/>
<rect x="392" y="408" width="1" height="1" fill="#ccc"/>
<rect x="394" y="408" width="1" height="1" fill="#ccc"/>
<rect x="396" y="408" width="1" height="1" fill="#ccc"/>
<rect x="393" y="409" width="1" height="1" fill="#ccc"/>
<rect x="395" y="409" width="1" height="1" fill="#ccc"/>
<rect x="392" y="410" width="1" height="1" fill="#ccc"/>
<rect x="394" y="410" width="1" height="1" fill="#ccc"/>
<rect x="396" y="410" width="1" height="1" fill="#ccc"/>
<rect x="393" y="411" width="1" height="1" fill="#ccc"/>
<rect x="395" y="411" width="1" height="1" fill="#ccc"/>
<rect x="392" y="412" width="1" height="1" fill="#ccc"/>
<rect x="394" y="412" width="1" height="1" fill="#ccc"/>
<rect x="396" y="412" width="1" height="1" fill="#ccc"/>
<rect x="393" y="413" width="1" height="1" fill="#ccc"/>
<rect x="395" y="413" width="1" height="1" fill="#ccc"/>
<rect x="392" y="414" width="1" height="1" fill="#ccc"/>
<rect x="394" y="414" width="1" height="1" fill="#ccc"/>
<rect x="396" y="414" width="1" height="1" fill="#ccc"/>
<rect x="393" y="415" width="1" height="1" fill="#ccc"/>
<rect x="395" y="415" width="1" height="1" fill="#ccc"/>
<rect x="392" y="416" width="1" height="1" fill="#ccc"/>
<rect x="394" y="416" width="1" height="1" fill="#ccc"/>
<rect x="396" y="416" width="1" height="1" fill="#ccc"/>
<rect x="393" y="417" width="1" height="1" fill="#ccc"/>
<rect x="395" y="417" width="1" height="1" fill="#ccc"/>
<rect x="392" y="418" width="1" height="1" fill="#ccc"/>
<rect x="394" y="418" width="1" height="1" fill="#ccc"/>
<rect x="396" y="418" width="1" height="1" fill="#ccc"/>
<rect x="393" y="419" width="1" height="1" fill="#ccc"/>
<rect x="395" y="419" width="1" height="1" fill="#ccc"/>
<rect x="392" y="420" width="1" height="1" fill="#ccc"/>
<rect x="394" y="420" width="1" height="1" fill="#ccc"/>
<rect x="396" y="420" width="1" height="1" fill="#ccc"/>
<rect x="393" y="421" width="1" height="1" fill="#ccc"/>
<rect x="395" y="421" width="1" height="1" fill="#ccc"/>
<rect x="392" y="422" width="1" height="1" fill="#ccc"/>
<rect x="394" y="422" width="1" height="1" fill="#ccc"/>
<rect x="396" y="422" width="1" height="1" fill="#ccc"/>
<rect x="393" y="423" width="1" height="1" fill="#ccc"/>
<rect x="395" y="423" width="1" height="1" fill="#ccc"/>
<rect x="392" y="424" width="1" height="1" fill="#ccc"/>
<rect x="394" y="424" width="1" height="1" fill="#ccc"/>
<rect x="396" y="424" width="1" height="1" fill="#ccc"/>
<rect x="393" y="425" width="1" height="1" fill="#ccc"/>
<rect x="395" y="425" width="1" height="1" fill="#ccc"/>
<rect x="392" y="426" width="1" height="1" fill="#ccc"/>
<rect x="394" y="426" width="1" height="1" fill="#ccc"/>
<rect x="396" y="426" width="1" height="1" fill="#ccc"/>
<rect x="393" y="427" width="1" height="1" fill="#ccc"/>
<rect x="395" y="427" width="1" height="1" fill="#ccc"/>
<rect x="392" y="428" width="1" height="1" fill="#ccc"/>
<rect x="394" y="428" width="1" height="1" fill="#ccc"/>
<rect x="396" y="428" width="1" height="1" fill="#ccc"/>
<rect x="393" y="429" width="1" height="1" fill="#ccc"/>
<rect x="395" y="429" width="1" height="1" fill="#ccc"/>
<rect x="392" y="430" width="1" height="1" fill="#ccc"/>
<rect x="394" y="430" width="1" height="1" fill="#ccc"/>
<rect x="396" y="430" width="1" height="1" fill="#ccc"/>
<rect x="393" y="431" width="1" height="1" fill="#ccc"/>
<rect x="395" y="431" width="1" height="1" fill="#ccc"/>
<rect x="392" y="432" width="1" height="1" fill="#ccc"/>
<rect x="394" y="432" width="1" height="1" fill="#ccc"/>
<rect x="396" y="432" width="1" height="1" fill="#ccc"/>
<rect x="393" y="433" width="1" height="1" fill="#ccc"/>
<rect x="395" y="433" width="1" height="1" fill="#ccc"/>
<rect x="392" y="434" width="1" height="1" fill="#ccc"/>
<rect x="394" y="434" width="1" height="1" fill="#ccc"/>
<rect x="396" y="434" width="1" height="1" fill="#ccc"/>
<rect x="393" y="435" width="1" height="1" fill="#ccc"/>
<rect x="395" y="435" width="1" height="1" fill="#ccc"/>
<rect x="392" y="436" width="1" height="1" fill="#ccc"/>
<rect x="394" y="436" width="1" height="1" fill="#ccc"/>
<rect x="396" y="436" width="1" height="1" fill="#ccc"/>
<rect x="393" y="437" width="1" height="1" fill="#ccc"/>
<rect x="395" y="437" width="1" height="1" fill="#ccc"/>
<rect x="392" y="438" width="1" height="1" fill="#ccc"/>
<rect x="394" y="438" width="1" height="1" fill="#ccc"/>
<rect x="396" y="438" width="1" height="1" fill="#ccc"/>
<rect x="393" y="439" width="1" height="1" fill="#ccc"/>
<rect x="395" y="439" width="1" height="1" fill="#ccc"/>
<rect x="392" y="440" width="1" height="1" fill="#ccc"/>
<rect x="394" y="440" width="1" height="1" fill="#ccc"/>
<rect x="396" y="440" width="1" height="1" fill="#ccc"/>
<rect x="393" y="441" width="1" height="1" fill="#ccc"/>
<rect x="395" y="441" width="1" height="1" fill="#ccc"/>
<rect x="392" y="442" width="1" height="1" fill="#ccc"/>
<rect x="394" y="442" width="1" height="1" fill="#ccc"/>
<rect x="396" y="442" width="1" height="1" fill="#ccc"/>
<rect x="393" y="443" width="1" height="1" fill="#ccc"/>
<rect x="395" y="443" width="1" height="1" fill="#ccc"/>
<rect x="392" y="444" width="1" height="1" fill="#ccc"/>
<rect x="394" y="444" width="1" height="1" fill="#ccc"/>
<rect x="396" y="444" width="1" height="1" fill="#ccc"/>
<rect x="393" y="445" width="1" height="1" fill="#ccc"/>
<rect x="395" y="445" width="1" height="1" fill="#ccc"/>
<rect x="392" y="446" width="1" height="1" fill="#ccc"/>
<rect x="394" y="446" width="1" height="1" fill="#ccc"/>
<rect x="396" y="446" width="1" height="1" fill="#ccc"/>
<rect x="393" y="447" width="1" height="1" fill="#ccc"/>
<rect x="395" y="447" width="1" height="1" fill="#ccc"/>
<rect x="392" y="448" width="1" height="1" fill="#ccc"/>
<rect x="394" y="448" width="1" height="1" fill="#ccc"/>
<rect x="396" y="448" width="1" height="1" fill="#ccc"/>
<rect x="393" y="449" width="1" height="1" fill="#ccc"/>
<rect x="395" y="449" width="1" height="1" fill="#ccc"/>
<rect x="392" y="450" width="1" height="1" fill="#ccc"/>
<rect x="394" y="450" width="1" height="1" fill="#ccc"/>
<rect x="396" y="450" width="1" height="1" fill="#ccc"/>
<rect x="393" y="451" width="1" height="1" fill="#ccc"/>
<rect x="395" y="451" width="1" height="1" fill="#ccc"/>
<rect x="392" y="452" width="1" height="1" fill="#ccc"/>
<rect x="394" y="452" width="1" height="1" fill="#ccc"/>
<rect x="396" y="452" width="1" height="1" fill="#ccc"/>
<rect x="393" y="453" width="1" height="1" fill="#ccc"/>
<rect x="395" y="453" width="1" height="1" fill="#ccc"/>
<rect x="392" y="454" width="1" height="1" fill="#ccc"/>
<rect x="394" y="454" width="1" height="1" fill="#ccc"/>
<rect x="396" y="454" width="1" height="1" fill="#ccc"/>
<rect x="393" y="455" width="1" height="1" fill="#ccc"/>
<rect x="395" y="455" width="1" height="1" fill="#ccc"/>
<rect x="392" y="456" width="1" height="1" fill="#ccc"/>
<rect x="394" y="456" width="1" height="1" fill="#ccc"/>
<rect x="396" y="456" width="1" height="1" fill="#ccc"/>
<rect x="393" y="457" width="1" height="1" fill="#ccc"/>
<rect x="395" y="457" width="1" height="1" fill="#ccc"/>
<rect x="392" y="458" width="1" height="1" fill="#ccc"/>
<rect x="394" y="458" width="1" height="1" fill="#ccc"/>
<rect x="396" y="458" width="1" height="1" fill="#ccc"/>
<rect x="393" y="459" width="1" height="1" fill="#ccc"/>
<rect x="395" y="459" width="1" height="1" fill="#ccc"/>
<rect x="392" y="460" width="1" height="1" fill="#ccc"/>
<rect x="394" y="460" width="1" height="1" fill="#ccc"/>
<rect x="396" y="460" width="1" height="1" fill="#ccc"/>
<rect x="393" y="461" width="1" height="1" fill="#ccc"/>
<rect x="395" y="461" width="1" height="1" fill="#ccc"/>
<rect x="392" y="462" width="1" height="1" fill="#ccc"/>
<rect x="394" y="462" width="1" height="1" fill="#ccc"/>
<rect x="396" y="462" width="1" height="1" fill="#ccc"/>
<rect x="393" y="463" width="1" height="1" fill="#ccc"/>
<rect x="395" y="463" width="1" height="1" fill="#ccc"/>
<rect x="392" y="464" width="1" height="1" fill="#ccc"/>
<rect x="394" y="464" width="1" height="1" fill="#ccc"/>
<rect x="396" y="464" width="1" height="1" fill="#ccc"/>
<rect x="392" y="466" width="6" height="2" fill="#fff" stroke="#111" stroke-width="0" />
<rect x="392" y="468" width="6" height="7" fill="#888" stroke="#111" stroke-width="1.0" />
<line x1="394.5" y1="468.5" x2="394.5" y2="474.5" stroke="#ddd" stroke-width="1.0" />
<rect x="388.2" y="475.2" width="13.7" height="7.2" fill="#fff" stroke="#111" stroke-width="1.4" />
<rect x="390" y="476" width="2.6" height="5.6" fill="#999" stroke="#111" stroke-width="0" />
<rect x="397.8" y="476" width="2.6" height="5.6" fill="#999" stroke="#111" stroke-width="0" />
<line x1="393.5" y1="370" x2="393.5" y2="387" stroke="#505050" stroke-width="0.8" />
<line x1="364" y1="317.7" x2="369.4" y2="312.3" stroke="#1a1a1a" stroke-width="1.15" />
<line x1="375.2" y1="316.1" x2="378.8" y2="312.3" stroke="#1a1a1a" stroke-width="1.15" />
<line x1="363" y1="327.4" x2="368.5" y2="322.6" stroke="#1a1a1a" stroke-width="1.15" />
<line x1="373.4" y1="327.4" x2="376.6" y2="324.2" stroke="#1a1a1a" stroke-width="1.15" />
<line x1="403.6" y1="313.6" x2="405.6" y2="312.4" stroke="#1a1a1a" stroke-width="1.15" />
<line x1="412" y1="316.4" x2="415.2" y2="312" stroke="#1a1a1a" stroke-width="1.15" />
<line x1="419.2" y1="318" x2="424.4" y2="313.2" stroke="#1a1a1a" stroke-width="1.15" />
<line x1="403.6" y1="324" x2="405" y2="323" stroke="#1a1a1a" stroke-width="1.15" />
<line x1="410" y1="327.6" x2="412.8" y2="324.4" stroke="#1a1a1a" stroke-width="1.15" />
<line x1="419.2" y1="327.6" x2="424" y2="322.8" stroke="#1a1a1a" stroke-width="1.15" />
<path d="M 393.5 610 L 439.75 610 A 11.5 11.5 0 0 1 439.75 633 L 393.5 633 A 11.5 11.5 0 0 1 393.5 610 Z" stroke="#111" stroke-width="1.6" fill="none" stroke-linejoin="round" />
<path d="M 420 610 Q 437 612 437 621.5 Q 437 631 420 633" stroke="#111" stroke-width="1.3" fill="none" stroke-linejoin="round" />
<path d="M 413 615.6 L 425.25 615.6 A 5.95 5.95 0 0 1 425.25 627.5 L 413 627.5 A 5.95 5.95 0 0 1 413 615.6 Z" stroke="#111" stroke-width="1.5" fill="none" stroke-linejoin="round" />
<rect x="391.3" y="617.8" width="3.1" height="7.4" fill="#111" stroke="#111" stroke-width="0" />
<circle cx="398" cy="612.5" r="0.9" fill="#111"/><circle cx="398" cy="630.6" r="0.9" fill="#111"/>
<line x1="370" y1="621.6" x2="382" y2="621.6" stroke="#111" stroke-width="1.2" />
<line x1="370.5" y1="621.6" x2="370.5" y2="676" stroke="#111" stroke-width="1.0" />
<line x1="393.5" y1="634.4" x2="393.5" y2="676" stroke="#111" stroke-width="1.0" />
<line x1="451" y1="621.5" x2="464" y2="621.5" stroke="#505050" stroke-width="1.0" />
<line x1="344" y1="668.5" x2="370.5" y2="668.5" stroke="#505050" stroke-width="1.0" />
<polygon points="370.50,668.50 357.50,671.10 357.50,665.90" fill="#000"/>
<line x1="393.6" y1="668.5" x2="419" y2="668.5" stroke="#505050" stroke-width="1.0" />
<polygon points="393.60,668.50 406.60,665.90 406.60,671.10" fill="#000"/>
<text x="381.8" y="675" font-size="18" text-anchor="middle" fill="#1a1a1a" stroke="#1a1a1a" stroke-width="0.3" >42</text>
<text x="438" y="601.7" font-size="18" text-anchor="start" fill="#1a1a1a" stroke="#1a1a1a" stroke-width="0.3" >50</text>
<text x="459.8" y="601.7" font-size="18" text-anchor="start" fill="#1a1a1a" stroke="#1a1a1a" stroke-width="0.3" >°</text>
<text x="438" y="655.7" font-size="18" text-anchor="start" fill="#1a1a1a" stroke="#1a1a1a" stroke-width="0.3" >50</text>
<text x="459.8" y="655.7" font-size="18" text-anchor="start" fill="#1a1a1a" stroke="#1a1a1a" stroke-width="0.3" >°</text>
<line x1="456.5" y1="605" x2="456.5" y2="638" stroke="#505050" stroke-width="1.0" />
<polygon points="456.50,621.50 454.00,608.00 459.00,608.00" fill="#000"/>
<polygon points="456.50,621.50 459.00,635.00 454.00,635.00" fill="#000"/>
<line x1="421" y1="588" x2="438.8" y2="567.5" stroke="#111" stroke-width="1.0" />
<line x1="421" y1="655" x2="438.8" y2="676" stroke="#111" stroke-width="1.0" />
<polygon points="434.50,572.50 445.53,579.85 441.85,583.53" fill="#000"/>
<polygon points="434.50,670.50 441.85,659.47 445.53,663.15" fill="#000"/>
<path d="M 388.8 609.2 L 405.7 589.1 A 11.5 11.5 0 0 1 423.3 603.9 L 418.6 609.6" stroke="#222" stroke-width="1.1" fill="none" stroke-linejoin="round" stroke-dasharray="3,2"/>
<path d="M 399.6 608.6 L 408.5 593 A 7 7 0 0 1 419.4 602 L 412.6 609.6" stroke="#222" stroke-width="1.1" fill="none" stroke-linejoin="round" stroke-dasharray="3,2"/>
<path d="M 388.8 633.8 L 405.7 653.9 A 11.5 11.5 0 0 0 423.3 639.1 L 418.6 633.4" stroke="#222" stroke-width="1.1" fill="none" stroke-linejoin="round" stroke-dasharray="3,2"/>
<path d="M 399.6 634.4 L 408.5 650 A 7 7 0 0 0 419.4 641 L 412.6 633.4" stroke="#222" stroke-width="1.1" fill="none" stroke-linejoin="round" stroke-dasharray="3,2"/>
</svg>
</body></html>
